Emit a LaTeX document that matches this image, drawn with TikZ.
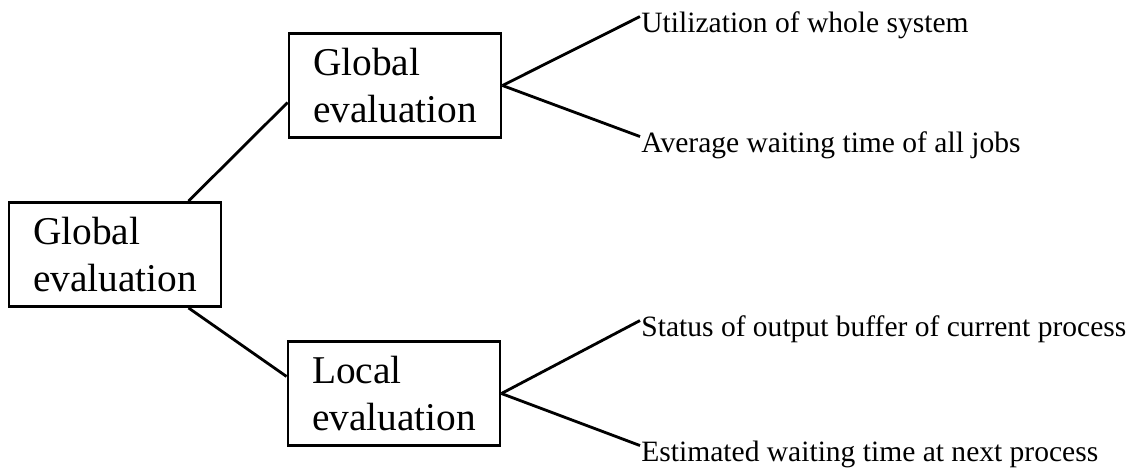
\documentclass[tikz,border=0pt]{standalone}
\usepackage{fontspec}
\setmainfont{Liberation Serif}
\usetikzlibrary{positioning}

\begin{document}
\begin{tikzpicture}[x=0.025cm, y=-0.025cm, line width=2pt,
    box/.style={draw, align=left, minimum width=5.3cm, minimum height=2.6cm,
        font=\fontsize{28}{33}\selectfont},
    leaf/.style={anchor=base west, inner sep=0pt, text height=10pt,
        font=\fontsize{21}{25}\selectfont}]

    \useasboundingbox (0,0) rectangle (1148,469);

    % boxes
    \node[box] (G0) at (115,254.5) {Global\\evaluation};
    \node[box] (G1) at (395,85.5) {Global\\evaluation};
    \node[box] (L1) at (394,393.5) {Local\\evaluation};

    % criteria
    \node[leaf] (U) at (640,32) {Utilization of whole system};
    \node[leaf] (W) at (640,152) {Average waiting time of all jobs};
    \node[leaf] (S) at (640,336) {Status of output buffer of current process};
    \node[leaf] (E) at (640,461) {Estimated waiting time at next process};

    \draw (G0.36) -- (G1.189);
    \draw (G0.-36) -- (L1.171);

    \draw (G1.east) -- (U.north west);
    \draw (G1.east) -- (W.north west);
    \draw (L1.east) -- (S.north west);
    \draw (L1.east) -- (E.north west);
\end{tikzpicture}
\end{document}
